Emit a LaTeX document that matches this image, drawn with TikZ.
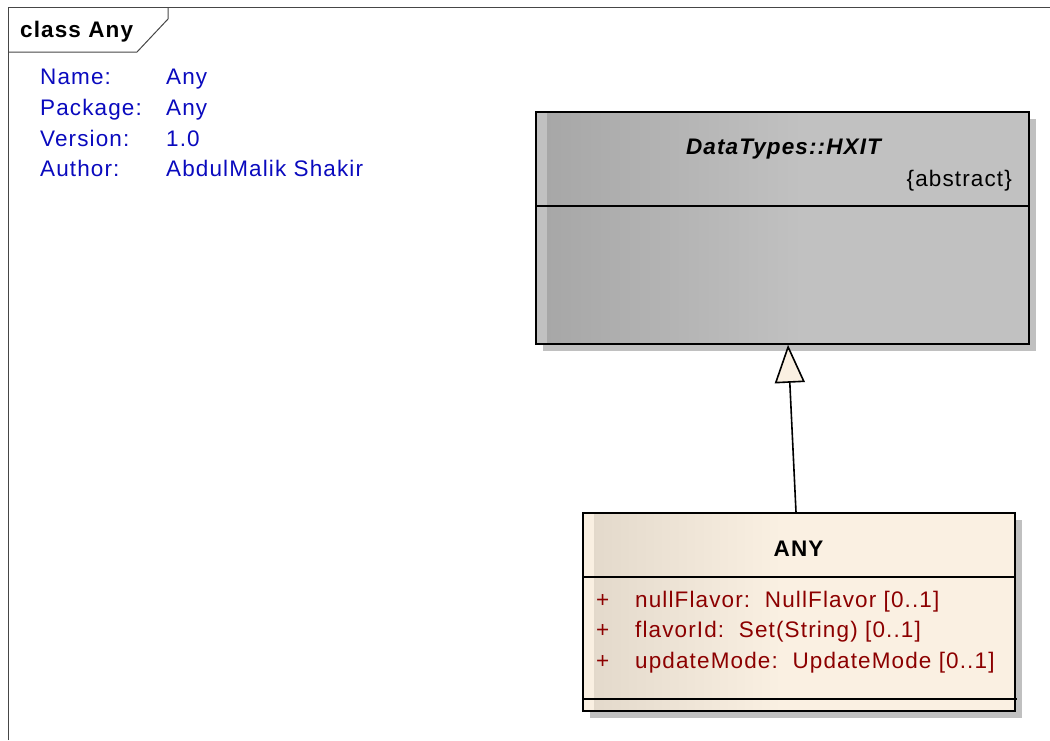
\documentclass[tikz,border=0pt]{standalone}
\usepackage{fontspec}
\setmainfont{Liberation Sans}[LetterSpace=5]
\usetikzlibrary{arrows.meta,shadows}
\definecolor{metablue}{RGB}{10,10,190}
\definecolor{attrred}{RGB}{140,0,0}
\definecolor{shadowgray}{RGB}{192,192,192}
\definecolor{hxleft}{RGB}{166,166,166}
\definecolor{hxright}{RGB}{193,193,193}
\definecolor{hxstrip}{RGB}{193,193,193}
\definecolor{anyleft}{RGB}{226,216,202}
\definecolor{anyright}{RGB}{250,240,226}
\definecolor{framegray}{RGB}{70,70,70}
\pgfdeclarehorizontalshading{hxshade}{100bp}{color(0bp)=(hxleft); color(25bp)=(hxleft); color(52bp)=(hxright); color(100bp)=(hxright)}
\pgfdeclarehorizontalshading{anyshade}{100bp}{color(0bp)=(anyleft); color(25bp)=(anyleft); color(48bp)=(anyright); color(100bp)=(anyright)}
\begin{document}
\begin{tikzpicture}[x=1pt,y=-1pt,
  font=\fontsize{22.5}{26}\selectfont,
  umlbox/.style={draw=black, line width=1.6pt, rectangle, inner sep=0pt,
    general shadow={fill=shadowgray, shadow xshift=7pt, shadow yshift=-7pt}},
  divider/.style={draw=black, line width=1.6pt},
  metalabel/.style={anchor=base west, text=metablue, inner sep=0pt},
  attr/.style={anchor=base west, text=attrred, inner sep=0pt},
  frameline/.style={draw=framegray, line width=1pt}]
\useasboundingbox (0,0) rectangle (1050,740);

% frame
\draw[frameline] (8,740) -- (8,7) -- (1050,7);
\draw[frameline] (168,7) -- (168,19) -- (137,52) -- (8,52);
\node[anchor=base west, inner sep=0pt, font=\fontsize{22.5}{26}\selectfont\bfseries] (title) at (20,37) {class Any};

% metadata
\node[metalabel] (l1) at (40,84.5) {Name:};
\node[metalabel] (v1) at (166,84.5) {Any};
\node[metalabel] (l2) at (40,115.5) {Package:};
\node[metalabel] (v2) at (166,115.5) {Any};
\node[metalabel] (l3) at (40,146.5) {Version:};
\node[metalabel] (v3) at (166,146.5) {1.0};
\node[metalabel] (l4) at (40,176.5) {Author:};
\node[metalabel] (v4) at (166,176.5) {AbdulMalik Shakir};

% HXIT class
\node[umlbox, minimum width=493pt, minimum height=232pt,
  shading=hxshade,
  path picture={\fill[hxstrip] (path picture bounding box.north west) rectangle ([xshift=11pt]path picture bounding box.south west);}]
  (hxit) at (782.5,228) {};
\draw[divider] (536,206) -- (1029,206);
\node[anchor=base, inner sep=0pt, font=\fontsize{22.5}{26}\selectfont\bfseries\itshape] (hxitname) at (783.5,154) {DataTypes::HXIT};
\node[anchor=base east, inner sep=0pt] (hxitabs) at (1012,186) {\{abstract\}};

% ANY class
\node[umlbox, minimum width=432pt, minimum height=198pt,
  shading=anyshade,
  path picture={\fill[anyright] (path picture bounding box.north west) rectangle ([xshift=11pt]path picture bounding box.south west);}]
  (any) at (799,612) {};
\draw[divider] (583,577) -- (1015,577);
\draw[divider] (583,699) -- (1017,699);
\node[anchor=base, inner sep=0pt, font=\fontsize{22.5}{26}\selectfont\bfseries] (anyname) at (798.5,556) {ANY};
\node[attr] (p1) at (596,607) {+};
\node[attr] (a1) at (635,607) {nullFlavor:\ \ NullFlavor [0..1]};
\node[attr] (p2) at (596,637) {+};
\node[attr] (a2) at (635,637) {flavorId:\ \ Set(String) [0..1]};
\node[attr] (p3) at (596,668) {+};
\node[attr] (a3) at (635,668) {updateMode:\ \ UpdateMode [0..1]};

% generalization
\draw[line width=1.6pt, -{Triangle[length=38pt, width=30pt, fill=anyright, line width=1.6pt]}]
  ([xshift=-3pt]any.north) -- ([xshift=5.5pt]hxit.south);
\end{tikzpicture}
\end{document}
